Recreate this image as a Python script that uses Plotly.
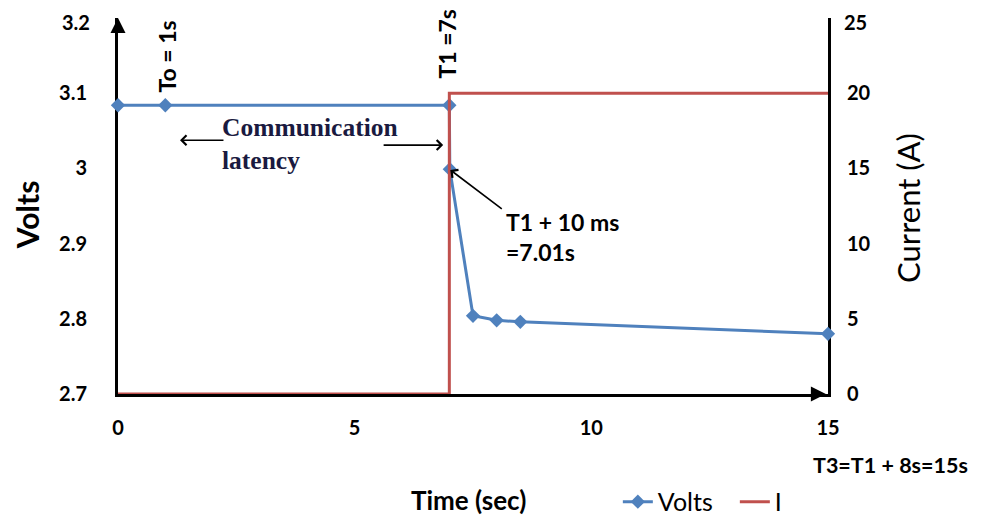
import plotly.graph_objects as go

# Voltage samples (left axis)
time_v = [0, 1, 7, 7.01, 7.5, 8, 8.5, 15]
volts = [3.084, 3.084, 3.084, 2.999, 2.804, 2.798, 2.796, 2.780]

# Current step (right axis)
time_i = [0, 7, 7, 15]
current = [0, 0, 20, 20]

x_ticks = [0, 5, 10, 15]
v_ticks = [2.7, 2.8, 2.9, 3.0, 3.1, 3.2]
v_tick_text = ["2.7", "2.8", "2.9", "3", "3.1", "3.2"]
i_ticks = [0, 5, 10, 15, 20, 25]

FONT = "Lato, Open Sans, Arial"
BLUE = "#4F81BD"
RED = "#C0504D"

fig = go.Figure()

fig.add_trace(go.Scatter(
    x=time_v, y=volts, name="Volts", mode="lines+markers",
    line=dict(color=BLUE, width=3),
    marker=dict(symbol="diamond", size=11, color=BLUE),
    cliponaxis=False,
))
fig.add_trace(go.Scatter(
    x=time_i, y=current, name="I", mode="lines", yaxis="y2",
    line=dict(color=RED, width=3),
    cliponaxis=False,
))

tick_font = dict(size=20, weight="bold")

# page body adds an 8px offset, so the figure is 8px smaller than the window
fig.update_layout(
    width=976, height=519,
    margin=dict(l=110, r=156, t=10, b=133, autoexpand=False),
    plot_bgcolor="white", paper_bgcolor="white",
    font=dict(family=FONT, size=17, color="black"),
    xaxis=dict(
        range=[0, 15], tickvals=x_ticks, showgrid=False, zeroline=False,
        showline=True, linecolor="black", linewidth=3, layer="below traces",
        ticks="", ticklabelstandoff=14, tickfont=tick_font, automargin=False,
    ),
    # top tick labels sit at the paper edge, so they are drawn as annotations below
    yaxis=dict(
        range=[2.7, 3.2], tickvals=v_ticks[:-1], ticktext=v_tick_text[:-1],
        showgrid=False, zeroline=False,
        showline=True, linecolor="black", linewidth=3, layer="below traces",
        ticks="", ticklabelstandoff=24, tickfont=tick_font, automargin=False,
    ),
    yaxis2=dict(
        range=[0, 25], tickvals=i_ticks[:-1], overlaying="y", side="right",
        showgrid=False, zeroline=False,
        showline=True, linecolor="black", linewidth=3, layer="below traces",
        ticks="", ticklabelstandoff=12, tickfont=tick_font, automargin=False,
    ),
    legend=dict(
        orientation="h", x=0.704, y=-0.287, xanchor="left", yanchor="middle",
        font=dict(size=25), bgcolor="rgba(0,0,0,0)",
        entrywidth=72, entrywidthmode="pixels",
    ),
)

annotations = [
    # top tick labels
    dict(x=-0.0366, y=v_ticks[-1], xref="paper", yref="y", text=v_tick_text[-1],
         xanchor="right", yanchor="middle", yshift=-4, showarrow=False, font=tick_font),
    dict(x=1.0197, y=i_ticks[-1], xref="paper", yref="y2", text=str(i_ticks[-1]),
         xanchor="left", yanchor="middle", yshift=-4, showarrow=False, font=tick_font),
    # axis titles
    dict(x=-0.128, y=0.476, xref="paper", yref="paper", text="Volts", textangle=-90,
         xanchor="center", yanchor="middle",
         showarrow=False, font=dict(size=30, weight="bold")),
    dict(x=1.1127, y=0.495, xref="paper", yref="paper", text="Current (A)", textangle=-90,
         xanchor="center", yanchor="middle",
         showarrow=False, font=dict(size=31)),
    dict(x=0.493, y=-0.282, xref="paper", yref="paper", text="Time (sec)",
         xanchor="center", yanchor="middle",
         showarrow=False, font=dict(size=26, weight="bold")),
    # axis arrowheads
    dict(x=0, y=1.0, xref="paper", yref="paper", ax=0, ay=12, text="",
         showarrow=True, arrowhead=2, arrowsize=1, arrowwidth=3, arrowcolor="black"),
    dict(x=0.997, y=0, xref="paper", yref="paper", ax=-12, ay=0, text="",
         showarrow=True, arrowhead=2, arrowsize=1, arrowwidth=3, arrowcolor="black"),
    # event labels
    dict(x=1.04, y=3.149, text="To = 1s", textangle=-90, showarrow=False,
         font=dict(size=23, weight="bold")),
    dict(x=6.95, y=3.166, text="T1 =7s", textangle=-90, showarrow=False,
         font=dict(size=23, weight="bold")),
    dict(x=2.15, y=3.076, text="Communication<br>latency", showarrow=False,
         xanchor="left", yanchor="top", align="left",
         font=dict(family="Liberation Serif, Times New Roman", size=25.5,
                   weight="bold", color="#1a1a40")),
    # latency arrows
    dict(x=1.31, y=3.0375, ax=2.26, ay=3.0375, axref="x", ayref="y", text="",
         showarrow=True, arrowhead=4, arrowsize=1.2, arrowwidth=1.6, arrowcolor="black"),
    dict(x=6.87, y=3.031, ax=5.58, ay=3.031, axref="x", ayref="y", text="",
         showarrow=True, arrowhead=4, arrowsize=1.2, arrowwidth=1.6, arrowcolor="black"),
    # T1 + 10 ms callout
    dict(x=7.02, y=2.998, ax=53, ay=40, text="", showarrow=True,
         arrowhead=4, arrowsize=1.2, arrowwidth=1.6, arrowcolor="black"),
    dict(x=8.15, y=2.95, text="T1 + 10 ms<br>=7.01s", showarrow=False,
         xanchor="left", yanchor="top", align="left",
         font=dict(size=23, weight="bold")),
    dict(x=0.976, y=-0.188, xref="paper", yref="paper", text="T3=T1 + 8s=15s",
         showarrow=False, xanchor="left", yanchor="middle",
         font=dict(size=21.5, weight="bold")),
]
fig.update_layout(annotations=annotations)

fig.write_html("out.html")
